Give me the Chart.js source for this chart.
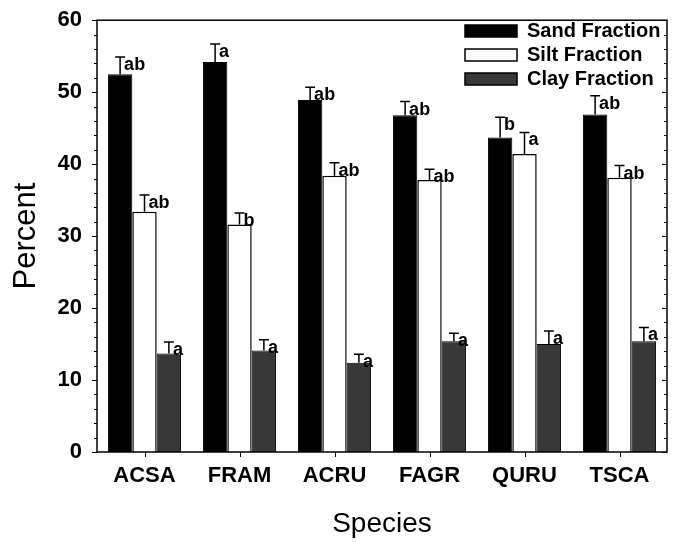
<!DOCTYPE html>
<html lang="en">
<head>
  <meta charset="UTF-8">
  <title>Soil Texture by Species</title>
  <script src="https://cdn.jsdelivr.net/npm/chart.js"></script>
  <style>
    body {
      margin: 0;
      background: #fff;
    }
    #wrap {
      width: 675px;
      height: 542px;
    }
  </style>
</head>
<body>
  <div id="wrap"><canvas id="chart" width="675" height="542"></canvas></div>

  <script>
    const species = ['ACSA', 'FRAM', 'ACRU', 'FAGR', 'QURU', 'TSCA'];

    const sand = [52.5, 54.2, 48.9, 46.8, 43.7, 46.9];
    const sandErr = [2.4, 2.5, 1.8, 1.9, 2.8, 2.6];
    const sandLetters = ['ab', 'a', 'ab', 'ab', 'b', 'ab'];

    const silt = [33.4, 31.6, 38.4, 37.8, 41.4, 38.1];
    const siltErr = [2.3, 1.6, 1.8, 1.5, 3.0, 1.7];
    const siltLetters = ['ab', 'b', 'ab', 'ab', 'a', 'ab'];

    const clay = [13.7, 14.1, 12.4, 15.4, 15.0, 15.4];
    const clayErr = [1.6, 1.5, 1.2, 1.1, 1.8, 1.9];
    const clayLetters = ['a', 'a', 'a', 'a', 'a', 'a'];

    const yTicks = [0, 10, 20, 30, 40, 50, 60];

    const FONT = "'Liberation Sans', Arial, sans-serif";

    // error bars + significance letters on top of each bar
    const errorBars = {
      id: 'errorBars',
      afterDatasetsDraw(chart) {
        const ctx = chart.ctx;
        const y = chart.scales.y;
        ctx.save();
        ctx.strokeStyle = '#000';
        ctx.lineWidth = 1.5;
        ctx.fillStyle = '#000';
        ctx.font = 'bold 18px ' + FONT;
        ctx.textAlign = 'left';
        ctx.textBaseline = 'alphabetic';
        chart.data.datasets.forEach((ds, i) => {
          const meta = chart.getDatasetMeta(i);
          meta.data.forEach((bar, j) => {
            const top = y.getPixelForValue(ds.data[j] + ds.err[j]);
            ctx.beginPath();
            ctx.moveTo(bar.x, bar.y);
            ctx.lineTo(bar.x, top);
            ctx.moveTo(bar.x - 5, top);
            ctx.lineTo(bar.x + 5, top);
            ctx.stroke();
            ctx.fillText(ds.letters[j], bar.x + 4, top + 13);
          });
        });
        ctx.restore();
      }
    };

    // frame, ticks and the legend inside the plot
    const frame = {
      id: 'frame',
      afterDraw(chart) {
        const ctx = chart.ctx;
        const a = chart.chartArea;
        const y = chart.scales.y;
        const x = chart.scales.x;
        ctx.save();
        ctx.strokeStyle = '#000';
        ctx.lineWidth = 1.5;
        ctx.strokeRect(a.left, a.top, a.right - a.left, a.bottom - a.top);

        ctx.lineWidth = 1;
        ctx.beginPath();
        for (let v = 0; v <= 60; v += 2) {
          const py = Math.round(y.getPixelForValue(v)) + 0.5;
          const len = v % 10 === 0 ? 5 : 3;
          ctx.moveTo(a.left - len, py);
          ctx.lineTo(a.left, py);
          ctx.moveTo(a.right - len, py);
          ctx.lineTo(a.right, py);
        }
        species.forEach((s, i) => {
          const px = Math.round(x.getPixelForValue(i)) + 0.5;
          ctx.moveTo(px, a.bottom);
          ctx.lineTo(px, a.bottom + 5);
        });
        ctx.stroke();

        // legend
        const rows = chart.data.datasets;
        ctx.font = 'bold 20px ' + FONT;
        ctx.textBaseline = 'middle';
        ctx.textAlign = 'left';
        rows.forEach((ds, i) => {
          const cy = 31 + i * 24;
          ctx.fillStyle = ds.backgroundColor;
          ctx.fillRect(465, cy - 6, 52, 12);
          ctx.lineWidth = 1.5;
          ctx.strokeStyle = '#000';
          ctx.strokeRect(465, cy - 6, 52, 12);
          ctx.fillStyle = '#000';
          ctx.fillText(ds.label, 527, cy);
        });
        ctx.restore();
      }
    };

    const chart = new Chart(document.getElementById('chart'), {
      type: 'bar',
      data: {
        labels: species,
        datasets: [
          {
            label: 'Sand Fraction',
            data: sand,
            err: sandErr,
            letters: sandLetters,
            backgroundColor: '#000000',
            borderColor: '#000000',
            borderWidth: 1
          },
          {
            label: 'Silt Fraction',
            data: silt,
            err: siltErr,
            letters: siltLetters,
            backgroundColor: '#ffffff',
            borderColor: '#000000',
            borderWidth: 1.5
          },
          {
            label: 'Clay Fraction',
            data: clay,
            err: clayErr,
            letters: clayLetters,
            backgroundColor: '#383838',
            borderColor: '#000000',
            borderWidth: 1
          }
        ]
      },
      options: {
        responsive: false,
        animation: false,
        layout: { padding: { top: 15, right: 8, left: 0, bottom: 0 } },
        datasets: {
          bar: { barPercentage: 1, categoryPercentage: 0.77 }
        },
        plugins: {
          legend: { display: false },
          tooltip: { enabled: false }
        },
        scales: {
          x: {
            grid: { display: false },
            border: { display: false },
            ticks: {
              color: '#000',
              padding: 3,
              font: { family: FONT, size: 22, weight: 'bold' }
            },
            title: {
              display: true,
              text: 'Species',
              color: '#000',
              padding: { top: 0, bottom: 1 },
              font: { family: FONT, size: 28 }
            },
            afterFit(scale) { scale.height = 90; }
          },
          y: {
            min: 0,
            max: 60,
            grid: { display: false },
            border: { display: false },
            afterBuildTicks(scale) {
              scale.ticks = yTicks.map(v => ({ value: v }));
            },
            ticks: {
              color: '#000',
              padding: 7,
              font: { family: FONT, size: 22, weight: 'bold' }
            },
            title: {
              display: true,
              text: 'Percent',
              color: '#000',
              padding: { top: 8, bottom: 0 },
              font: { family: FONT, size: 31 }
            },
            afterFit(scale) { scale.width = 97; }
          }
        }
      },
      plugins: [errorBars, frame]
    });
  </script>
</body>
</html>
